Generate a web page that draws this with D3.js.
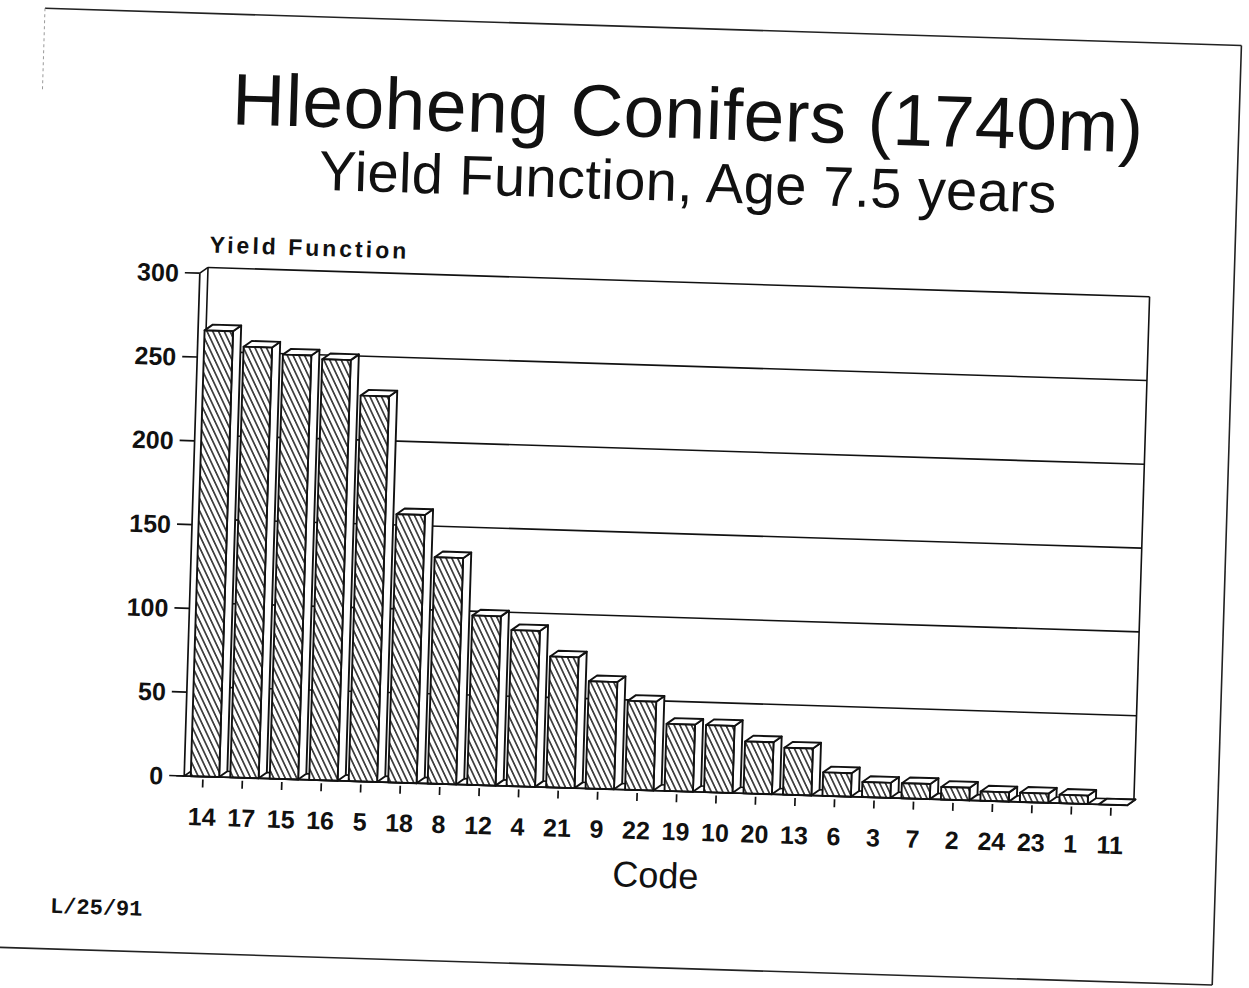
<!DOCTYPE html>
<html>
<head>
<meta charset="utf-8">
<script src="https://cdn.jsdelivr.net/npm/d3@7"></script>
<style>
  body { margin: 0; background: #fff; }
  text { fill: #111; }
</style>
</head>
<body>
<script>
// values
var codes = ["14","17","15","16","5","18","8","12","4","21","9","22","19","10","20","13","6","3","7","2","24","23","1","11"];
var yields = [266, 257, 253, 251, 230, 160, 135, 101, 93, 78, 64, 53, 40, 40, 31, 28, 14, 9, 9, 7.5, 5.5, 5.5, 5, 0];
var yTicks = [0, 50, 100, 150, 200, 250, 300];

var svgW = 1249, svgH = 988;
// front plane of the plot (before the page tilt)
var plotL = 193, plotR = 1135, plotB = 790, plotT = 287;
var depth = {x: 8, y: -6};

var svg = d3.select("body").append("svg")
    .attr("width", svgW)
    .attr("height", svgH);

// hatch fill for the bar fronts
var defs = svg.append("defs");
var pat = defs.append("pattern")
    .attr("id", "hatch")
    .attr("patternUnits", "userSpaceOnUse")
    .attr("width", 5.2).attr("height", 10)
    .attr("patternTransform", "rotate(-27)");
pat.append("rect").attr("width", 5.2).attr("height", 10).attr("fill", "#fff");
pat.append("line")
    .attr("x1", 2.6).attr("y1", 0).attr("x2", 2.6).attr("y2", 10)
    .attr("stroke", "#111").attr("stroke-width", 1.4);

// the scanned page is turned a little clockwise
var page = svg.append("g").attr("transform", "rotate(1.78,640,500)");

var x = d3.scaleBand().domain(codes).range([plotL + 1, 1142])
    .paddingInner(0.28).paddingOuter(0.14);
var y = d3.scaleLinear().domain([0, 300]).range([plotB, plotT]);

// page border (left edge is only faintly visible on the scan)
var border = page.append("g")
    .attr("stroke", "#222").attr("stroke-width", 1.6).attr("fill", "none");
border.append("line").attr("x1", 30).attr("y1", 27).attr("x2", 1227).attr("y2", 27);
border.append("line").attr("x1", 1227).attr("y1", 27).attr("x2", 1227).attr("y2", 967);
border.append("line").attr("x1", -40).attr("y1", 967).attr("x2", 1227).attr("y2", 967);
border.append("line").attr("x1", 30).attr("y1", 27).attr("x2", 30).attr("y2", 110)
    .attr("stroke", "#999").attr("stroke-width", 1).attr("stroke-dasharray", "3,3");

// titles
page.append("text")
    .attr("x", 676).attr("y", 137)
    .attr("text-anchor", "middle")
    .style("font-family", "'Liberation Sans', Arial, sans-serif")
    .style("font-size", "73px")
    .style("letter-spacing", "0.6px")
    .text("Hleoheng Conifers (1740m)");

page.append("text")
    .attr("x", 678).attr("y", 200)
    .attr("text-anchor", "middle")
    .style("font-family", "'Liberation Sans', Arial, sans-serif")
    .style("font-size", "56px")
    .style("letter-spacing", "0.4px")
    .text("Yield Function, Age 7.5 years");

page.append("text")
    .attr("x", 202).attr("y", 266)
    .style("font-family", "'Liberation Sans', Arial, sans-serif")
    .style("font-size", "23px")
    .style("font-weight", "bold")
    .style("letter-spacing", "3px")
    .text("Yield Function");

// back wall: gridlines, top edge and right edge
var wall = page.append("g")
    .attr("fill", "none").attr("stroke", "#111").attr("stroke-width", 1.6);

wall.selectAll("line.grid")
    .data(yTicks.slice(1))
  .enter().append("line")
    .attr("class", "grid")
    .attr("x1", plotL + depth.x).attr("x2", plotR + depth.x)
    .attr("y1", function(d) { return y(d) + depth.y; })
    .attr("y2", function(d) { return y(d) + depth.y; });

wall.append("line")
    .attr("x1", plotL + depth.x).attr("x2", plotL + depth.x)
    .attr("y1", y(300) + depth.y).attr("y2", y(0) + depth.y);
wall.append("line")
    .attr("x1", plotR + depth.x).attr("x2", plotR + depth.x)
    .attr("y1", y(300) + depth.y).attr("y2", y(0) + depth.y);
wall.append("line")
    .attr("x1", plotL).attr("x2", plotL + depth.x)
    .attr("y1", y(300)).attr("y2", y(300) + depth.y);

// floor
wall.append("path")
    .attr("fill", "#fff")
    .attr("d", "M" + plotL + "," + y(0) +
               "L" + (plotL + depth.x) + "," + (y(0) + depth.y) +
               "L" + (plotR + depth.x) + "," + (y(0) + depth.y) +
               "L" + plotR + "," + y(0) + "Z");

// 3D bars
var bw = x.bandwidth();
var bars = page.selectAll("g.bar")
    .data(codes.map(function(c, i) { return {code: c, value: yields[i]}; }))
  .enter().append("g")
    .attr("class", "bar")
    .attr("stroke", "#111").attr("stroke-width", 1.9)
    .attr("stroke-linejoin", "round");

// side face
bars.append("path")
    .attr("fill", "#fff")
    .attr("d", function(d) {
      var x0 = x(d.code) + bw, yt = y(d.value), yb = y(0);
      return "M" + x0 + "," + yt + "L" + (x0 + depth.x) + "," + (yt + depth.y) +
             "L" + (x0 + depth.x) + "," + (yb + depth.y) + "L" + x0 + "," + yb + "Z";
    });
// top face
bars.append("path")
    .attr("fill", "#fff")
    .attr("d", function(d) {
      var x0 = x(d.code), yt = y(d.value);
      return "M" + x0 + "," + yt + "L" + (x0 + depth.x) + "," + (yt + depth.y) +
             "L" + (x0 + bw + depth.x) + "," + (yt + depth.y) + "L" + (x0 + bw) + "," + yt + "Z";
    });
// front face
bars.append("rect")
    .attr("x", function(d) { return x(d.code); })
    .attr("y", function(d) { return y(d.value); })
    .attr("width", bw)
    .attr("height", function(d) { return y(0) - y(d.value); })
    .attr("fill", "url(#hatch)");

// front axes
var axes = page.append("g")
    .attr("stroke", "#111").attr("stroke-width", 1.7);

axes.append("line")
    .attr("x1", plotL).attr("x2", plotL)
    .attr("y1", y(300)).attr("y2", y(0));
axes.append("line")
    .attr("x1", plotL - 8).attr("x2", plotR)
    .attr("y1", y(0)).attr("y2", y(0));

axes.selectAll("line.ytick")
    .data(yTicks)
  .enter().append("line")
    .attr("class", "ytick")
    .attr("x1", plotL - 15).attr("x2", plotL)
    .attr("y1", function(d) { return y(d); })
    .attr("y2", function(d) { return y(d); });

axes.selectAll("line.xtick")
    .data(codes)
  .enter().append("line")
    .attr("class", "xtick")
    .attr("x1", function(d) { return x(d) + bw / 2 - 2; })
    .attr("x2", function(d) { return x(d) + bw / 2 - 2; })
    .attr("y1", y(0) + 3).attr("y2", y(0) + 11);

page.selectAll("text.ylab")
    .data(yTicks)
  .enter().append("text")
    .attr("class", "ylab")
    .attr("x", plotL - 21)
    .attr("y", function(d) { return y(d); })
    .attr("dy", "0.36em")
    .attr("text-anchor", "end")
    .style("font-family", "'Liberation Sans', Arial, sans-serif")
    .style("font-size", "25px")
    .style("font-weight", "bold")
    .text(function(d) { return d; });

page.selectAll("text.xlab")
    .data(codes)
  .enter().append("text")
    .attr("class", "xlab")
    .attr("x", function(d) { return x(d) + bw / 2 - 2; })
    .attr("y", 839)
    .attr("text-anchor", "middle")
    .style("font-family", "'Liberation Sans', Arial, sans-serif")
    .style("font-size", "25px")
    .style("font-weight", "bold")
    .text(function(d) { return d; });

page.append("text")
    .attr("x", 667).attr("y", 887)
    .attr("text-anchor", "middle")
    .style("font-family", "'Liberation Sans', Arial, sans-serif")
    .style("font-size", "36px")
    .text("Code");

page.append("text")
    .attr("x", 63).attr("y", 931)
    .style("font-family", "'Liberation Mono', 'Courier New', monospace")
    .style("font-size", "22px")
    .style("font-weight", "bold")
    .text("L/25/91");
</script>
</body>
</html>
